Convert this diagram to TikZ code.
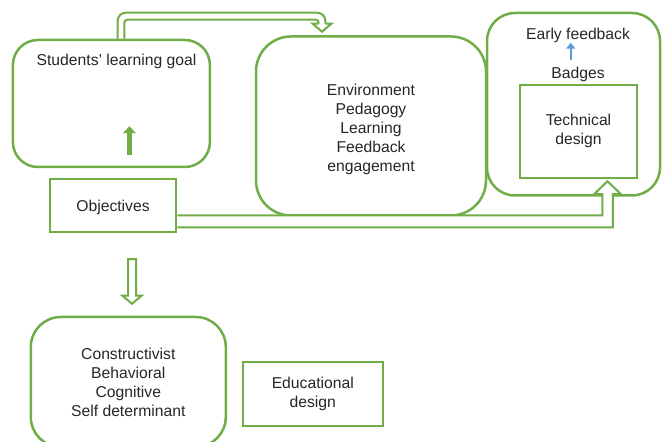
\documentclass[tikz,border=0pt]{standalone}
\usepackage{fontspec}
\setmainfont{Liberation Sans}
\usetikzlibrary{calc,arrows.meta}
\definecolor{leaf}{HTML}{70AD47}
\definecolor{sky}{HTML}{5B9BD5}

\begin{document}
\begin{tikzpicture}[x=1pt, y=1pt,
    every node/.style={font=\fontsize{15.7}{19}\selectfont, text=black!85, align=center},
    box/.style={draw=leaf, line width=2.5pt, inner sep=0pt},
    rbox/.style={box, rounded corners=#1},
    hollow/.style={draw=leaf, line width=2pt, line join=miter}]
  \useasboundingbox (0,0) rectangle (662,442);

  % boxes
  \node[rbox=25pt, minimum width=197pt, minimum height=127pt] (goal) at (111.4,338.5) {};
  \node (goaltxt) at (116.5,380.5) {Students’ learning goal};
  \node[rbox=35pt, minimum width=230pt, minimum height=179pt] (env) at (371,316) {};
  \node (envtxt) at (371,312.5) {Environment\\Pedagogy\\Learning\\Feedback\\engagement};
  \node[rbox=28pt, minimum width=173pt, minimum height=182.5pt] (outer) at (573.5,337.75) {};
  \node (early) at (578,407) {Early feedback};
  \node (badges) at (578,368) {Badges};
  \node[box, minimum width=117pt, minimum height=93pt] (tech) at (578.5,310.5) {};
  \node (techtxt) at (578.5,311) {Technical\\design};
  \node[box, minimum width=126pt, minimum height=53pt] (obj) at (113,236.5) {};
  \node (objtxt) at (113,235) {Objectives};
  \node[rbox=30pt, minimum width=195pt, minimum height=130pt] (theory) at (128.3,60)
    {Constructivist\\Behavioral\\Cognitive\\Self determinant};
  \node[box, minimum width=140pt, minimum height=64pt] (edu) at (312.8,48) {Educational\\design};

  % small arrows
  \coordinate (ua) at ($(goal.south)+(18,13)$);
  \coordinate (ub) at ($(goal.south)+(18,42)$);
  \draw[leaf, line width=5pt, -{Triangle[length=7pt,width=13pt]}] (ua) -- (ub);
  \coordinate (bl1) at ($(badges.center)+(-7.3,14)$);
  \coordinate (bl2) at ($(early.center)+(-7.3,-7.7)$);
  \draw[sky, line width=2pt, -{Triangle[length=6pt,width=9pt]}] (bl1) -- (bl2);

  % goal -> environment
  \coordinate (ta) at ($(goal.north)+(9.6,0)$);
  \coordinate (tb) at ($(env.north)+(-49,3.5)$);
  \draw[hollow, rounded corners=8pt] let \p1=(ta), \p2=(tb) in
    (\x1-3.3pt,\y1) -- (\x1-3.3pt,\y1+26pt) -- (\x2+3.3pt,\y1+26pt) -- (\x2+3.3pt,\y2+8pt);
  \draw[hollow, rounded corners=3pt] let \p1=(ta), \p2=(tb) in
    (\x2-3.3pt,\y2+8pt) -- (\x2-3.3pt,\y1+19pt) -- (\x1+3.3pt,\y1+19pt) -- (\x1+3.3pt,\y1);
  \draw[hollow] let \p2=(tb) in
    (\x2+3.3pt,\y2+8pt) -- (\x2+9.3pt,\y2+8pt) -- (tb) -- (\x2-9.3pt,\y2+8pt) -- (\x2-3.3pt,\y2+8pt);

  % objectives -> technical design
  \coordinate (ba) at ($(obj.east)+(0,-16)$);
  \coordinate (bb) at ($(tech.south)+(29,-2)$);
  \draw[hollow, fill=white] let \p1=(ba), \p2=(bb) in
    (\x1,\y1+6pt) -| (\x2-5.25pt,\y2-13pt) -- (\x2-13.5pt,\y2-13pt) -- (bb)
    -- (\x2+13.5pt,\y2-13pt) -- (\x2+5.25pt,\y2-13pt) |- (\x1,\y1-6pt);

  % objectives -> theories
  \coordinate (da) at ($(obj.south)+(19,-26)$);
  \coordinate (db) at ($(theory.north)+(3.7,12)$);
  \draw[hollow, fill=white] let \p1=(da), \p2=(db) in
    (\x1-4pt,\y1) -- (\x1-4pt,\y2+8pt) -- (\x1-9.5pt,\y2+8pt) -- (\x1,\y2)
    -- (\x1+9.5pt,\y2+8pt) -- (\x1+4pt,\y2+8pt) -- (\x1+4pt,\y1) -- cycle;
\end{tikzpicture}
\end{document}
